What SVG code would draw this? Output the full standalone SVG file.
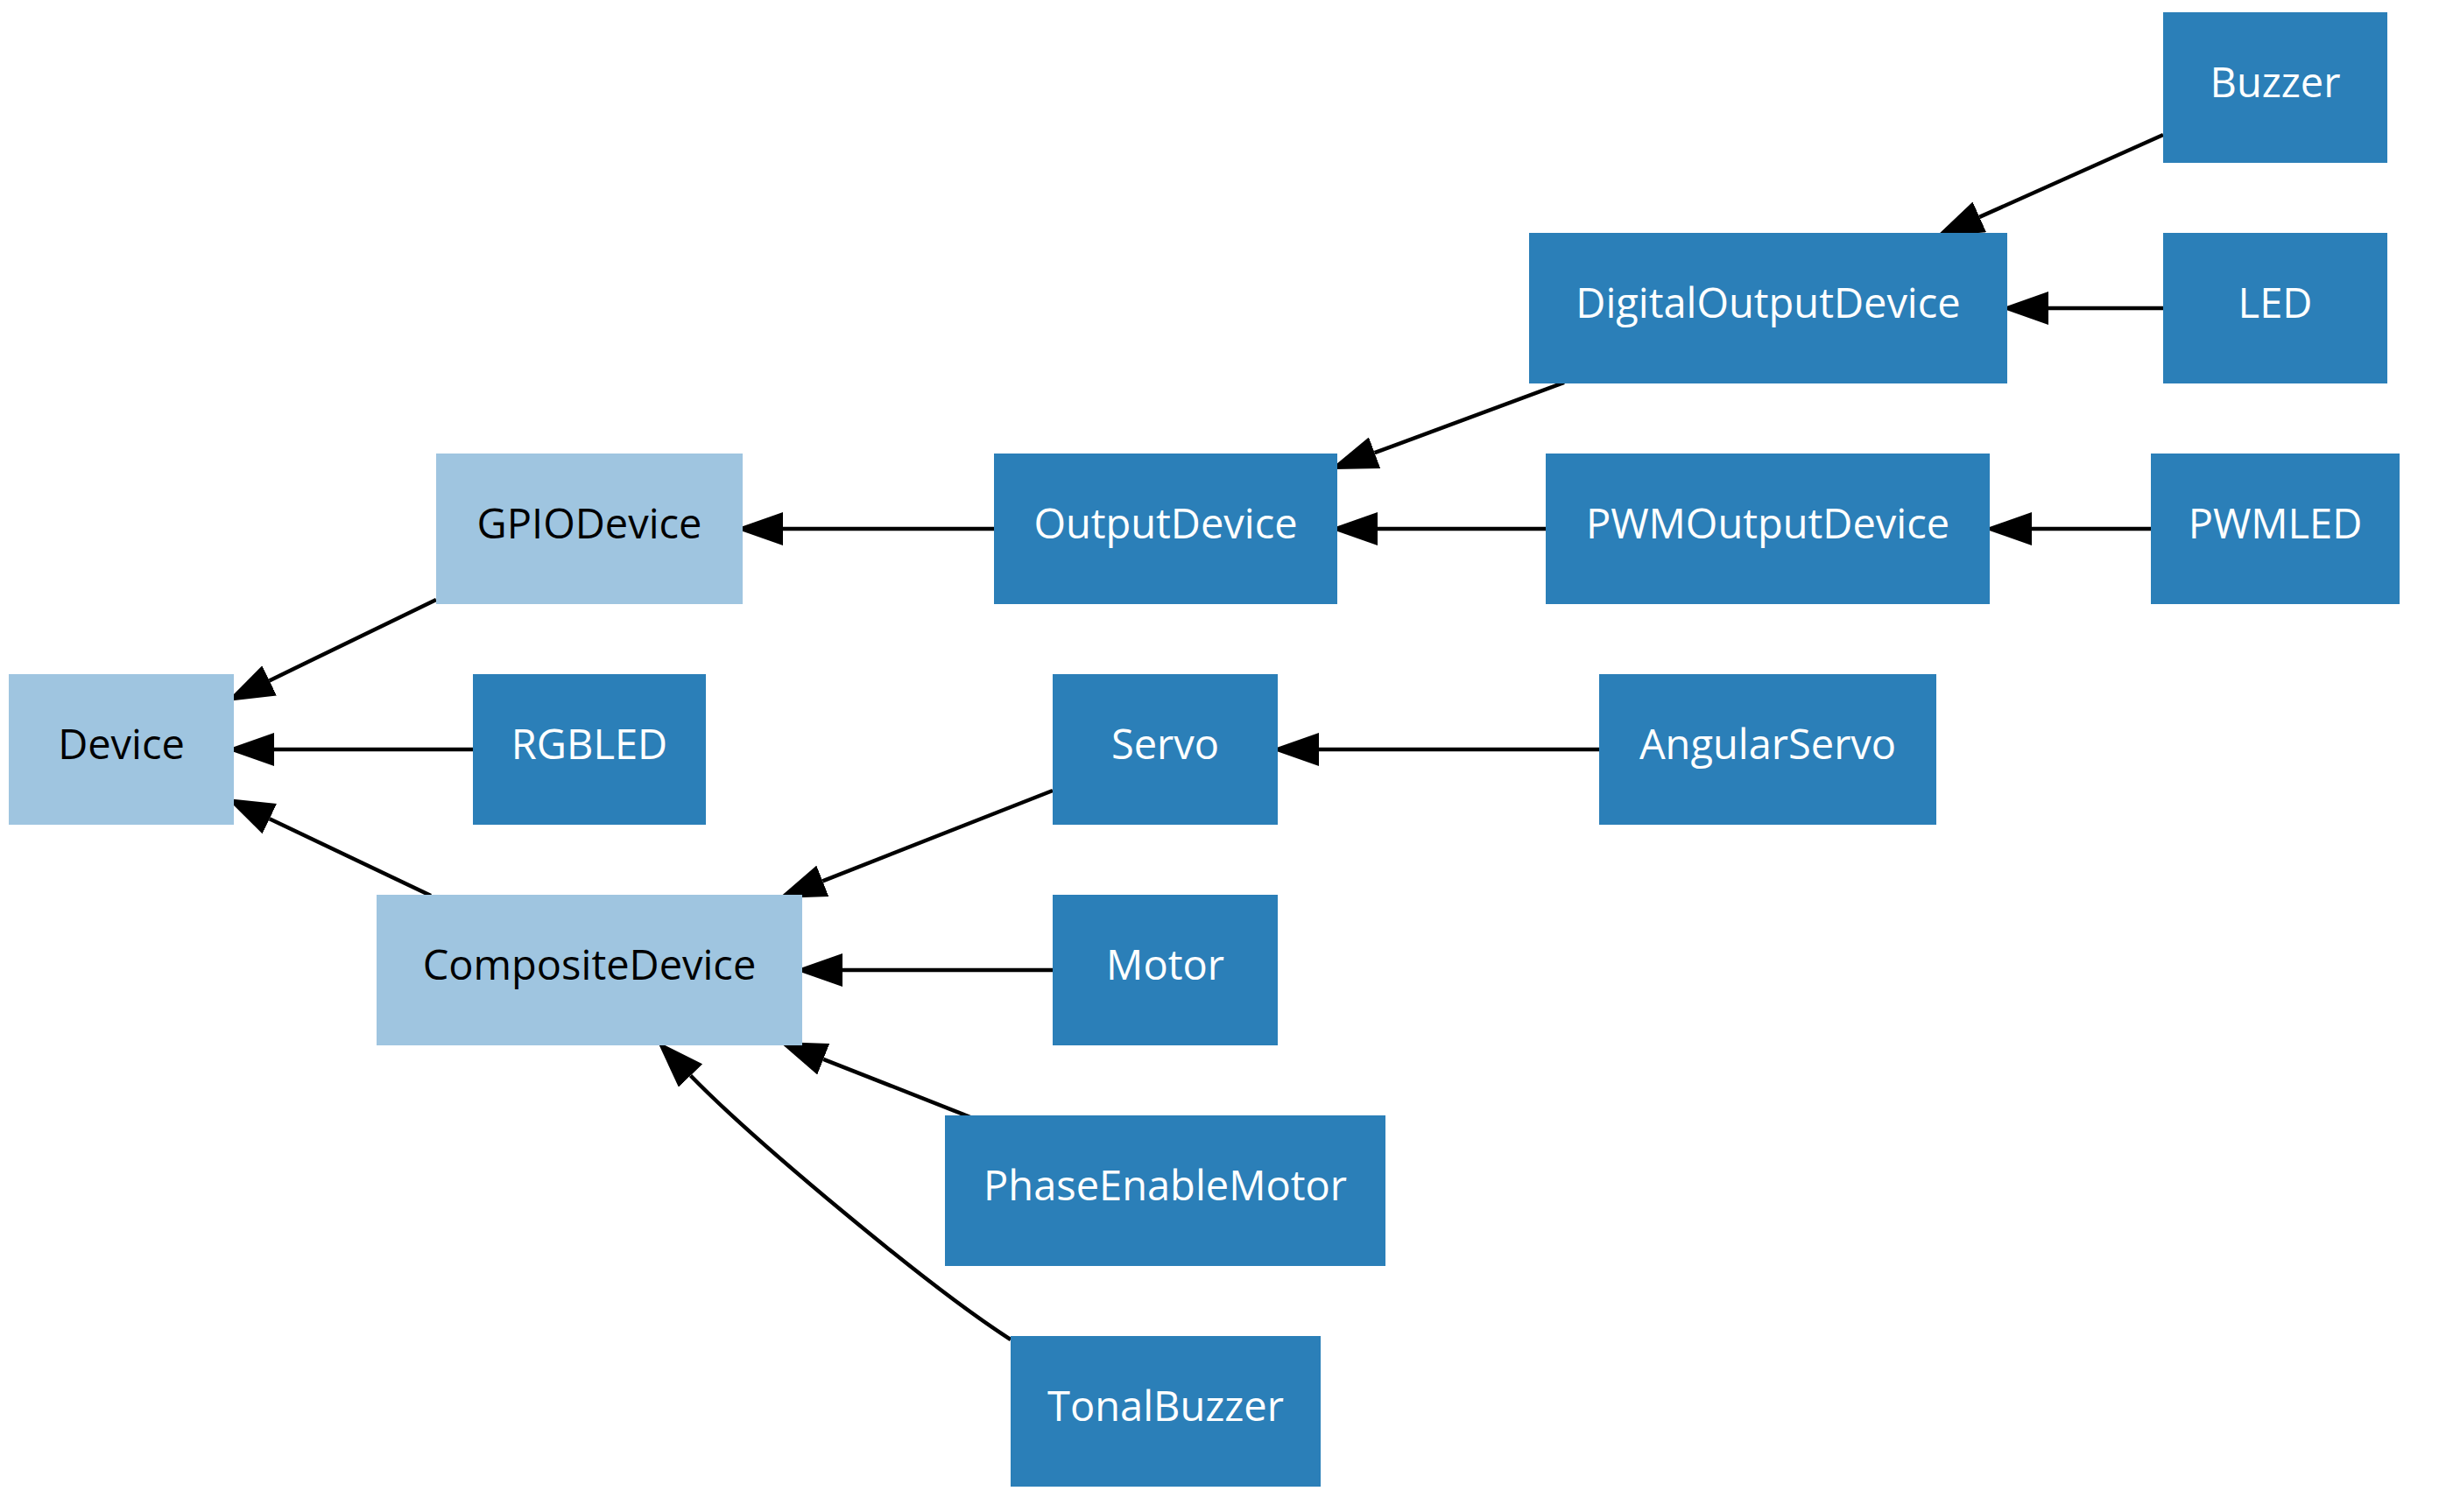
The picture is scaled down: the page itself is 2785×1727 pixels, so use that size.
<svg xmlns="http://www.w3.org/2000/svg" width="2785" height="1727" viewBox="0 0 2785 1727">
<style>
.n rect{stroke:none}
.lt rect{fill:#9fc5e0}
.dk rect{fill:#2b7fb8}
.n text{font-family:"Open Sans","Noto Sans","DejaVu Sans",sans-serif;font-size:47px;text-anchor:middle}
.lt text{fill:#000}
.dk text{fill:#fff}
#edges path{fill:none;stroke:#000;stroke-width:4.5;marker-end:url(#arr)}
</style>
<defs>
<marker id="arr" markerUnits="userSpaceOnUse" viewBox="0 0 54 38" refX="0" refY="19" markerWidth="54" markerHeight="38" orient="auto">
<path d="M0,0 L54,19 L0,38 z" fill="#000"/>
</marker>
</defs>
<rect width="2785" height="1727" fill="#fff"/>
<g id="edges">
<path d="M498,685 L307.6,777.4"/>
<path d="M540,856 L313,856"/>
<path d="M492,1023 L307.8,935.2"/>
<path d="M1135,604 L894,604"/>
<path d="M1786,437 L1569.6,517.2"/>
<path d="M2470,154 L2260.3,247.9"/>
<path d="M2470,352 L2339,352"/>
<path d="M1765,604 L1573,604"/>
<path d="M2456,604 L2320,604"/>
<path d="M1826,856 L1506,856"/>
<path d="M1202,903 L939.3,1006.3"/>
<path d="M1202,1108 L962,1108"/>
<path d="M1108,1276 L940.2,1209.8"/>
<path d="M1154,1530 C1060,1470 858,1300 788.5,1228.5"/>
</g>
<g id="Device" class="n lt"><rect x="10" y="770" width="257" height="172"/><text x="138.5" y="867">Device</text></g>
<g id="GPIODevice" class="n lt"><rect x="498" y="518" width="350" height="172"/><text x="673" y="615">GPIODevice</text></g>
<g id="RGBLED" class="n dk"><rect x="540" y="770" width="266" height="172"/><text x="673" y="867">RGBLED</text></g>
<g id="CompositeDevice" class="n lt"><rect x="430" y="1022" width="486" height="172"/><text x="673" y="1119">CompositeDevice</text></g>
<g id="OutputDevice" class="n dk"><rect x="1135" y="518" width="392" height="172"/><text x="1331" y="615">OutputDevice</text></g>
<g id="Servo" class="n dk"><rect x="1202" y="770" width="257" height="172"/><text x="1330.5" y="867">Servo</text></g>
<g id="Motor" class="n dk"><rect x="1202" y="1022" width="257" height="172"/><text x="1330.5" y="1119">Motor</text></g>
<g id="PhaseEnableMotor" class="n dk"><rect x="1079" y="1274" width="503" height="172"/><text x="1330.5" y="1371">PhaseEnableMotor</text></g>
<g id="TonalBuzzer" class="n dk"><rect x="1154" y="1526" width="354" height="172"/><text x="1331" y="1623">TonalBuzzer</text></g>
<g id="DigitalOutputDevice" class="n dk"><rect x="1746" y="266" width="546" height="172"/><text x="2019" y="363">DigitalOutputDevice</text></g>
<g id="PWMOutputDevice" class="n dk"><rect x="1765" y="518" width="507" height="172"/><text x="2018.5" y="615">PWMOutputDevice</text></g>
<g id="AngularServo" class="n dk"><rect x="1826" y="770" width="385" height="172"/><text x="2018.5" y="867">AngularServo</text></g>
<g id="Buzzer" class="n dk"><rect x="2470" y="14" width="256" height="172"/><text x="2598" y="111">Buzzer</text></g>
<g id="LED" class="n dk"><rect x="2470" y="266" width="256" height="172"/><text x="2598" y="363">LED</text></g>
<g id="PWMLED" class="n dk"><rect x="2456" y="518" width="284" height="172"/><text x="2598" y="615">PWMLED</text></g>
</svg>
